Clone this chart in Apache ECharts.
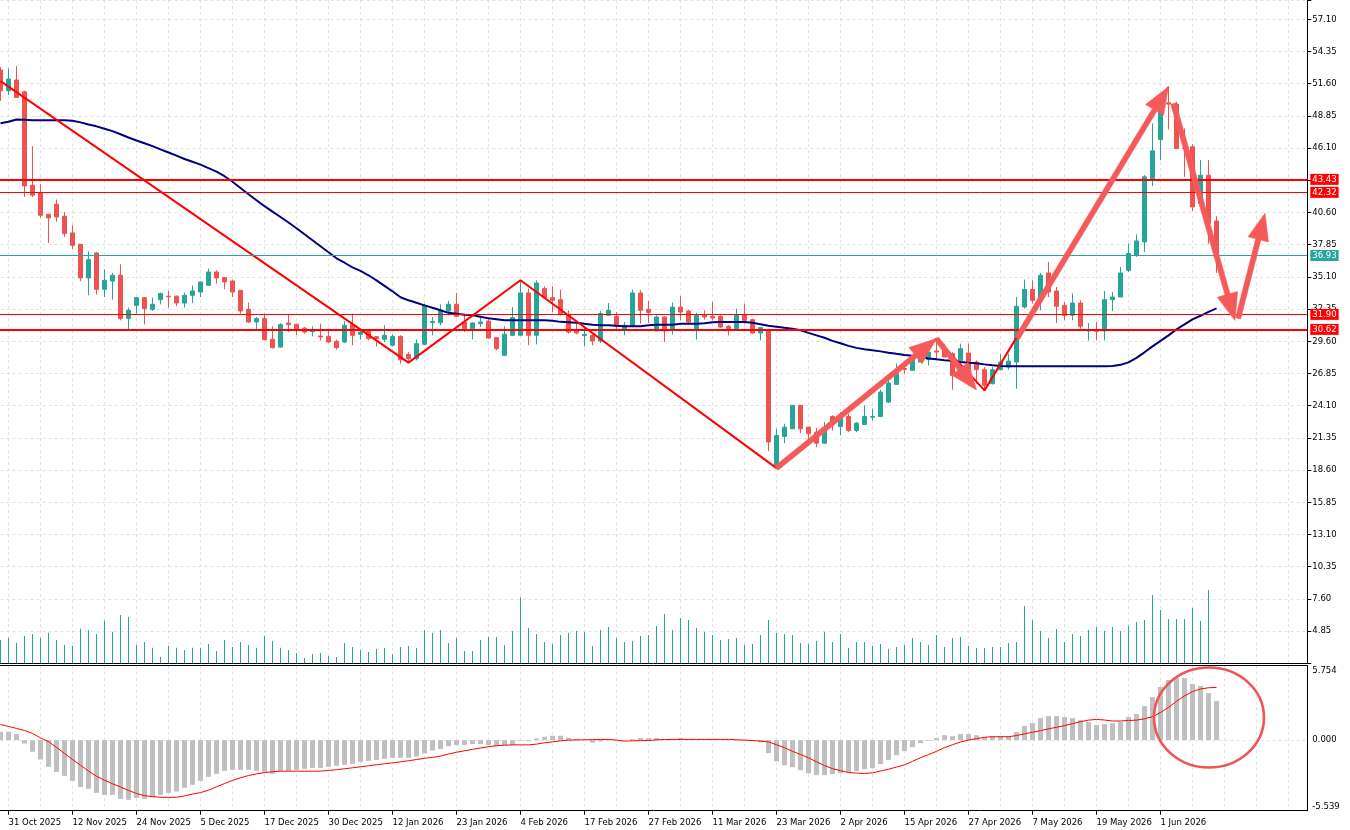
<!DOCTYPE html>
<html><head><meta charset="utf-8">
<script src="https://cdn.jsdelivr.net/npm/echarts@6/dist/echarts.min.js"></script>
<style>html,body{margin:0;padding:0;background:#fff}#c{width:1350px;height:830px}</style>
</head><body><div id="c"></div>
<script>
// ---- data (bar index 0 = 30 Oct 2025, daily trading sessions) ----
// [open, close, low, high]
const candles = [
[52.77,51.00,50.14,53.02],[51.00,52.00,50.63,52.91],[51.91,50.43,50.43,53.11],[50.91,42.87,41.93,51.00],[42.93,42.08,41.93,46.27],
[42.31,40.37,40.17,43.02],[40.45,40.14,38.00,40.50],[41.31,40.22,39.80,41.71],[40.28,38.80,38.51,40.65],[38.86,37.80,37.46,39.51],
[37.89,35.01,34.73,37.89],[35.01,36.58,33.53,37.29],[37.15,34.04,33.59,37.23],[34.04,34.81,33.38,35.75],[34.75,35.24,33.16,35.44],
[35.24,31.54,31.39,36.18],[31.54,32.25,30.48,32.48],[32.67,33.33,31.97,33.38],[33.33,32.39,31.05,33.38],[32.33,32.76,32.19,33.33],
[33.16,33.68,32.76,33.76],[33.45,33.40,32.48,33.90],[33.45,32.87,32.59,33.52],[32.87,33.53,32.48,33.76],[33.53,33.90,32.87,34.38],
[33.81,34.67,33.38,34.70],[34.38,35.52,34.38,35.81],[35.52,35.01,34.53,35.66],[35.04,34.67,34.04,35.04],[34.75,33.81,33.38,34.87],
[33.96,32.19,31.97,33.96],[32.33,31.25,31.16,32.91],[31.25,31.54,30.48,31.68],[31.54,29.74,29.68,31.97],[29.77,29.06,28.97,30.88],
[29.11,31.02,29.06,31.16],[31.16,31.02,30.39,31.88],[31.05,30.62,30.11,31.11],[30.72,30.39,30.25,30.82],[30.42,30.48,30.02,30.88],
[30.05,29.97,29.68,31.11],[30.02,29.54,29.45,30.68],[29.60,29.06,28.89,29.74],[29.54,30.97,29.45,31.33],[31.02,30.11,29.26,31.97],
[30.20,30.39,29.74,30.60],[30.45,29.83,29.68,30.54],[30.00,29.83,29.17,30.02],[29.77,30.11,29.54,30.97],[29.26,30.02,29.17,30.20],
[30.02,28.03,27.69,30.11],[28.48,28.12,27.78,28.68],[28.12,29.40,27.97,29.74],[29.34,32.67,29.26,32.82],[31.19,31.30,30.11,31.68],
[31.19,32.25,30.97,32.76],[32.19,32.76,31.82,33.05],[32.76,31.73,31.68,33.73],[31.25,30.68,30.39,31.97],[30.68,31.16,29.77,31.25],
[31.11,31.25,30.82,31.73],[31.33,29.88,29.83,31.54],[29.91,28.97,28.83,29.97],[28.40,30.20,28.34,30.88],[30.11,31.62,30.05,32.52],
[30.11,33.73,30.05,34.75],[33.73,30.11,29.26,34.10],[30.11,34.58,29.34,34.81],[34.10,33.33,33.25,34.30],[33.33,33.10,32.10,34.30],
[33.16,31.88,31.82,34.02],[31.88,30.39,30.25,32.25],[30.45,30.31,30.20,31.11],[30.09,30.20,29.17,30.82],[30.11,29.62,29.26,30.31],
[29.62,31.97,29.45,32.19],[31.82,32.25,31.82,32.87],[31.73,30.88,30.48,32.10],[30.68,30.97,30.11,31.25],[30.88,33.73,30.82,34.02],
[33.73,32.25,31.11,33.96],[32.33,32.05,31.16,33.05],[30.48,31.68,30.48,31.82],[31.68,30.48,29.54,31.73],[30.60,32.52,30.17,32.91],
[32.52,32.10,31.39,33.45],[32.19,31.25,31.05,32.30],[30.54,31.82,29.74,32.02],[31.88,31.68,31.45,32.25],[31.73,31.59,31.39,32.96],
[31.73,30.82,30.74,31.82],[30.88,30.68,30.11,30.97],[30.68,31.90,30.60,32.39],[31.90,31.39,31.11,32.82],[31.45,30.31,30.25,31.54],
[30.31,30.77,29.68,30.77],[30.60,21.00,20.22,30.60],[18.85,21.56,18.77,22.13],[21.48,22.27,20.90,22.56],[22.13,24.13,22.13,24.13],
[24.13,22.13,21.76,24.13],[22.27,21.71,21.19,22.27],[21.84,20.90,20.56,22.22],[20.90,22.22,20.85,22.70],[23.18,22.56,21.99,23.27],
[22.33,23.12,21.56,23.55],[23.18,21.99,21.84,23.42],[21.99,22.61,21.84,22.70],[22.50,23.18,22.50,24.13],[23.12,23.18,22.84,23.84],
[23.18,25.26,23.12,25.47],[24.41,26.03,24.32,26.26],[25.92,26.84,25.92,27.69],[27.28,27.20,26.84,27.74],[27.12,28.03,27.12,28.40],
[27.83,28.40,27.83,28.68],[28.03,28.68,27.54,29.11],[28.77,28.68,28.12,29.83],[28.97,28.26,28.26,29.40],[28.54,26.69,25.47,28.68],
[27.97,28.97,27.83,29.40],[28.60,27.12,25.84,29.40],[27.83,27.18,25.98,27.97],[27.18,25.84,25.50,27.40],[25.98,27.18,25.92,27.40],
[27.18,27.83,27.12,28.54],[27.40,27.91,27.18,28.54],[27.83,32.59,25.55,33.38],[32.53,34.02,32.39,34.87],[34.02,33.10,32.82,34.81],
[33.10,35.24,32.25,35.44],[35.44,33.81,33.38,36.38],[33.90,32.59,31.16,34.24],[32.67,31.82,31.39,32.96],[31.82,32.87,31.39,33.68],
[32.87,30.88,30.68,33.10],[30.48,30.54,29.68,31.16],[30.54,30.45,29.68,31.25],[30.48,33.16,29.68,33.90],[33.16,33.38,32.19,33.81],
[33.38,35.44,33.38,35.95],[35.66,37.10,35.52,37.95],[36.95,38.17,36.81,38.74],[38.09,43.65,37.24,43.79],[43.36,45.87,42.85,48.21],
[46.84,49.92,45.07,50.48],[49.97,49.86,47.70,51.34],[49.86,46.07,46.07,50.06],[46.10,46.05,43.64,47.78],[46.21,41.08,40.74,46.44],
[41.37,43.79,41.37,45.07],[43.79,39.66,37.95,45.07],[39.88,36.93,35.44,40.28]
];
const movingAverage = [
48.22,48.35,48.55,48.53,48.49,48.49,48.49,48.49,48.49,48.44,
48.30,48.11,47.96,47.76,47.55,47.28,47.01,46.75,46.51,46.27,
45.99,45.73,45.46,45.17,44.93,44.69,44.39,44.09,43.70,43.23,
42.70,42.16,41.65,41.14,40.67,40.22,39.75,39.26,38.74,38.23,
37.72,37.21,36.69,36.31,35.92,35.62,35.24,34.81,34.34,33.87,
33.36,33.10,32.89,32.67,32.46,32.25,32.03,31.95,31.86,31.82,
31.69,31.56,31.48,31.39,31.39,31.39,31.39,31.39,31.39,31.35,
31.26,31.22,31.18,31.09,31.01,30.97,30.97,30.92,30.88,30.88,
30.88,30.97,31.01,31.02,31.02,31.09,31.11,31.11,31.14,31.22,
31.25,31.25,31.25,31.25,31.18,31.05,30.92,30.84,30.75,30.68,
30.54,30.32,30.11,29.90,29.64,29.43,29.21,29.04,28.93,28.83,
28.74,28.63,28.53,28.44,28.36,28.27,28.14,28.06,27.99,27.93,
27.84,27.76,27.72,27.63,27.55,27.50,27.46,27.46,27.46,27.46,
27.46,27.46,27.46,27.46,27.46,27.46,27.46,27.46,27.46,27.50,
27.59,27.80,28.19,28.66,29.17,29.64,30.11,30.62,31.05,31.48,
31.78,32.12,32.42
];
const volume = [
23.3,25.6,20.6,27.3,29.3,25.6,30.6,23.3,18.3,17.3,34.6,33.3,29.3,42.6,31.6,48.3,46.3,18.3,21.3,15.6,
6.6,17.3,15.6,13.3,15.6,15.6,19.3,12.3,23.3,16.3,21.3,18.3,15.6,27.6,22.3,15.6,13.3,10.3,5.3,9.3,
10.3,7.3,6.3,20.3,16.3,13.3,11.3,14.3,15.3,9.3,16.3,17.3,15.3,33.3,30.3,
33.3,20.3,25.3,12.3,12.3,23.3,26.3,26.3,18.3,32.3,65.7,35.3,29.3,21.3,19.3,28.3,30.3,32.3,31.3,17.3,
33.3,36.3,25.3,21.3,22.3,27.3,28.3,37.3,49.3,33.3,45.3,43.3,35.3,31.3,28.3,23.3,24.3,25.3,18.3,19.3,
28.3,43.3,30.3,29.3,28.3,20.3,19.3,22.3,31.3,21.3,29.3,15.3,21.3,21.3,17.3,
19.3,14.3,16.3,18.3,25.3,21.3,18.3,28.3,16.3,25.3,26.3,17.3,15.3,15.3,16.3,16.3,20.3,21.3,57.3,43.3,
32.3,25.3,34.3,21.3,29.3,27.3,33.3,36.3,32.3,36.3,32.3,37.3,41.3,43.3,68.3,53.3,44.3,44.3,44.3,55.3,
42.3,73.3,1.0
];
const macdHist = [
0.69,0.69,0.50,-0.28,-0.96,-1.60,-2.20,-2.62,-2.95,-3.36,-3.86,-4.02,-4.35,-4.52,-4.52,-4.85,-4.93,-4.77,-4.85,-4.71,
-4.52,-4.35,-4.24,-3.94,-3.69,-3.36,-3.03,-2.78,-2.53,-2.45,-2.45,-2.45,-2.53,-2.62,-2.78,-2.53,-2.53,-2.45,-2.37,-2.29,
-2.29,-2.20,-2.12,-2.04,-1.96,-1.79,-1.71,-1.63,-1.54,-1.46,-1.46,-1.46,-1.35,-1.10,-0.85,
-0.74,-0.50,-0.41,-0.41,-0.33,-0.33,-0.41,-0.50,-0.41,-0.41,-0.05,-0.08,0.14,0.28,0.36,0.36,0.19,0.08,0.02,-0.19,
-0.11,-0.03,0.02,0.02,0.08,0.17,0.17,0.17,0.03,0.08,0.17,0.08,0.03,0.02,0.02,0.02,-0.03,-0.03,-0.05,-0.08,
-0.19,-1.07,-1.74,-2.07,-2.23,-2.48,-2.73,-2.89,-2.89,-2.81,-2.73,-2.64,-2.56,-2.40,-2.31,
-1.98,-1.63,-1.24,-0.91,-0.58,-0.25,-0.06,0.17,0.41,0.33,0.50,0.50,0.41,0.25,0.33,0.33,0.33,0.66,1.16,1.40,
1.82,1.98,1.98,1.90,1.82,1.65,1.49,1.24,1.32,1.40,1.49,1.90,2.15,2.81,3.55,4.38,4.96,5.12,5.12,4.63,
4.46,3.88,3.22
];
const macdSignal = [
1.29,1.13,0.97,0.80,0.55,0.19,-0.12,-0.60,-1.10,-1.60,
-2.07,-2.55,-2.98,-3.30,-3.60,-3.86,-4.15,-4.40,-4.58,-4.66,
-4.71,-4.72,-4.71,-4.60,-4.45,-4.33,-4.12,-3.85,-3.58,-3.32,
-3.11,-2.92,-2.78,-2.68,-2.60,-2.56,-2.56,-2.56,-2.56,-2.56,
-2.56,-2.50,-2.44,-2.36,-2.28,-2.20,-2.12,-2.03,-1.95,-1.87,
-1.79,-1.70,-1.60,-1.50,-1.42,-1.32,-1.15,-1.00,-0.88,-0.76,
-0.65,-0.54,-0.46,-0.42,-0.39,-0.39,-0.39,-0.33,-0.22,-0.14,
-0.06,0.00,0.02,0.03,0.04,0.05,0.06,0.00,-0.08,-0.06,
-0.04,-0.03,0.02,0.05,0.06,0.06,0.06,0.06,0.06,0.06,
0.06,0.06,0.03,0.00,-0.03,-0.08,-0.14,-0.38,-0.62,-0.92,
-1.18,-1.46,-1.78,-2.10,-2.35,-2.52,-2.67,-2.72,-2.75,-2.70,
-2.55,-2.40,-2.22,-2.04,-1.75,-1.45,-1.20,-0.92,-0.62,-0.38,
-0.15,0.00,0.12,0.24,0.28,0.28,0.28,0.38,0.52,0.65,
0.78,0.93,1.06,1.20,1.36,1.52,1.65,1.71,1.66,1.58,
1.58,1.62,1.65,1.76,1.93,2.28,2.70,3.20,3.65,4.00,
4.22,4.32,4.35
];
const tickIndex = [1,9,17,25,33,41,49,57,65,73,81,89,97,105,113,121,129,137,145];
const tickLabels = ['31 Oct 2025','12 Nov 2025','24 Nov 2025','5 Dec 2025','17 Dec 2025','30 Dec 2025','12 Jan 2026',
  '23 Jan 2026','4 Feb 2026','17 Feb 2026','27 Feb 2026','11 Mar 2026','23 Mar 2026','2 Apr 2026','15 Apr 2026',
  '27 Apr 2026','7 May 2026','19 May 2026','1 Jun 2026'];
const priceLevels = [43.43, 42.32, 36.93, 31.90, 30.62];
const macdLabels = [5.754, 0, -5.539];
// zigzag trendline vertices [bar index, price]
const zigzag = [[0,51.83],[51,27.78],[65,34.81],[97,18.77],[117,29.83],[123,25.41],[146,51.34]];
// arrows: [fromIndex, fromPrice, toIndex, toPrice]
const arrows = [
  [97, 18.77, 117, 29.83],
  [117, 29.83, 122, 25.45],
  [127.06, 29.85, 146, 51.34],
  [146.6, 49.9, 154.3, 31.39],
  [154.7, 31.56, 158.06, 40.54]
];
const circleMark = [151.06, 1.87];

// ---- styles ----
const FONT = 'DejaVu Sans', FS = 8.5;
const BULL = '#26A69A', BEAR = '#EF5350', RED = '#FF0000', ARROW = '#F55A5A';
const levelColor = [RED, RED, BULL, RED, RED];
const levelWidth = [2, 1, 1, 1, 2];
const GRIDLINE = {show: true, lineStyle: {color: '#e2e2e2', type: [3, 3], width: 1}};
const XMIN = -3, XMAX = 163.35;
const black = {show: true, onZero: false, lineStyle: {color: '#000', width: 1}};

const chart = echarts.init(document.getElementById('c'), null, {renderer: 'canvas'});
const gridBase = {left: -23.5, width: 1330.8, containLabel: false, outerBoundsMode: 'none'};
const xBase = {type: 'value', min: XMIN, max: XMAX, interval: 4, axisTick: {show: false}, axisLabel: {show: false}, splitLine: {show: false}, axisLine: {show: false, onZero: false}};

function renderArrow(params, api) {
  const p1 = api.coord([api.value(0), api.value(1)]);
  const p2 = api.coord([api.value(2), api.value(3)]);
  const dx = p2[0] - p1[0], dy = p2[1] - p1[1];
  const L = Math.hypot(dx, dy) || 1;
  const ux = dx / L, uy = dy / L, nx = -uy, ny = ux;
  const headLen = 27, headHalf = 10.5, shaftHalf = 2.6;
  const bx = p2[0] - ux * headLen, by = p2[1] - uy * headLen;
  const pts = [
    [p1[0] + nx * shaftHalf, p1[1] + ny * shaftHalf],
    [bx + nx * shaftHalf, by + ny * shaftHalf],
    [bx + nx * headHalf, by + ny * headHalf],
    [p2[0], p2[1]],
    [bx - nx * headHalf, by - ny * headHalf],
    [bx - nx * shaftHalf, by - ny * shaftHalf],
    [p1[0] - nx * shaftHalf, p1[1] - ny * shaftHalf]
  ];
  return {type: 'polygon', shape: {points: pts}, style: {fill: ARROW, stroke: ARROW, lineWidth: 0.6}};
}

chart.setOption({
  animation: false,
  backgroundColor: '#fff',
  grid: [
    Object.assign({top: 0, height: 663.3}, gridBase),
    Object.assign({top: 583.3, height: 80}, gridBase),
    Object.assign({top: 665.7, height: 145}, gridBase)
  ],
  xAxis: [
    Object.assign({}, xBase, {gridIndex: 0, position: 'bottom', axisLine: black, splitLine: GRIDLINE}),
    Object.assign({}, xBase, {gridIndex: 1, show: false}),
    Object.assign({}, xBase, {gridIndex: 2, position: 'bottom', axisLine: black,
      axisTick: {show: true, customValues: tickIndex, length: 4, lineStyle: {color: '#000'}},
      axisLabel: {show: true, customValues: tickIndex, align: 'left', margin: 8, color: '#000', fontFamily: FONT, fontSize: FS,
        formatter: v => { const k = tickIndex.indexOf(Math.round(v)); return k >= 0 ? tickLabels[k] : ''; }}}),
    Object.assign({}, xBase, {gridIndex: 2, position: 'top', axisLine: black, splitLine: GRIDLINE})
  ],
  yAxis: [
    {type: 'value', gridIndex: 0, position: 'right', min: 2.10, max: 58.75, interval: 2.75,
      axisLine: black, axisTick: {show: true, length: 4, lineStyle: {color: '#000'}},
      axisLabel: {margin: 5, color: '#000', fontFamily: FONT, fontSize: FS,
        formatter: v => (v < 3 || v > 58) ? '' : v.toFixed(2)},
      splitLine: GRIDLINE},
    {type: 'value', gridIndex: 1, min: 0, max: 80, show: false, splitLine: {show: false}},
    {type: 'value', gridIndex: 2, position: 'right', min: -5.82, max: 6.14,
      axisLine: black, axisTick: {show: false},
      axisLabel: {customValues: macdLabels, margin: 5, color: '#000', fontFamily: FONT, fontSize: FS, formatter: v => v.toFixed(3)},
      splitLine: {show: false}}
  ],
  series: [
    {type: 'candlestick', xAxisIndex: 0, yAxisIndex: 0, z: 2,
      data: candles.map((c, i) => [i, c[0], c[1], c[2], c[3]]),
      encode: {x: 0, y: [1, 2, 3, 4]},
      barWidth: 5,
      itemStyle: {color: BULL, color0: BEAR, borderColor: BULL, borderColor0: BEAR, borderWidth: 1},
      markLine: {silent: true, animation: false, symbol: 'none', z: 5,
        data: priceLevels.map((v, k) => ({
          yAxis: v,
          lineStyle: {color: levelColor[k], width: levelWidth[k], type: 'solid'},
          label: {show: true, position: 'end', distance: 3, formatter: v.toFixed(2),
            backgroundColor: levelColor[k], color: '#fff', fontFamily: FONT, fontSize: FS,
            lineHeight: 11, padding: [0, 2, 0, 2]}
        }))}
    },
    {type: 'line', xAxisIndex: 0, yAxisIndex: 0, z: 3, symbol: 'none', showSymbol: false,
      data: movingAverage.map((v, i) => [i, v]),
      lineStyle: {color: '#000080', width: 2}},
    {type: 'line', xAxisIndex: 0, yAxisIndex: 0, z: 4, symbol: 'none', showSymbol: false,
      data: zigzag, lineStyle: {color: RED, width: 2}},
    {type: 'custom', xAxisIndex: 0, yAxisIndex: 0, z: 6, silent: true,
      data: arrows, encode: {x: [0, 2], y: [1, 3]}, renderItem: renderArrow},
    {type: 'bar', xAxisIndex: 1, yAxisIndex: 1, barWidth: 1,
      data: volume.map((v, i) => [i, v]), itemStyle: {color: BULL}},
    {type: 'bar', xAxisIndex: 2, yAxisIndex: 2, barWidth: 5,
      data: macdHist.map((v, i) => [i, v]), itemStyle: {color: '#C0C0C0'},
      markLine: {silent: true, animation: false, symbol: 'none', z: 1, label: {show: false},
        lineStyle: {color: '#e2e2e2', type: [3, 3], width: 1}, data: [{yAxis: 0}]}},
    {type: 'line', xAxisIndex: 2, yAxisIndex: 2, symbol: 'none', showSymbol: false,
      data: macdSignal.map((v, i) => [i, v]), lineStyle: {color: RED, width: 1}},
    {type: 'scatter', xAxisIndex: 2, yAxisIndex: 2, silent: true, z: 6,
      data: [circleMark], symbol: 'circle', symbolSize: [110, 100],
      itemStyle: {color: 'rgba(0,0,0,0)', borderColor: '#F05555', borderWidth: 2.5, opacity: 1}}
  ]
});
</script>
</body></html>
